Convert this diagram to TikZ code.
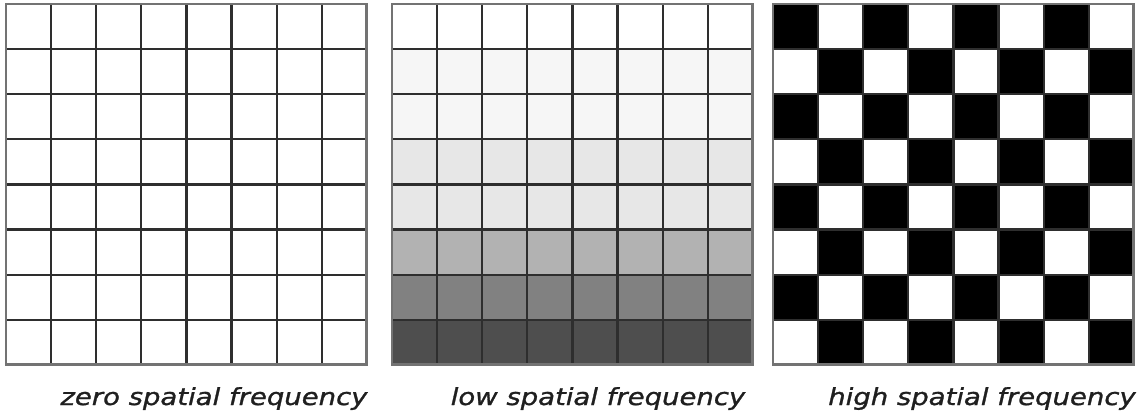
\documentclass[tikz,border=0pt]{standalone}
\usepackage{fontspec}
\setmainfont{DejaVu Sans}
\newfontfamily\capfont{DejaVu Sans}[FakeStretch=1.17,FakeBold=1.2]
\begin{document}
\begin{tikzpicture}[x=1pt,y=-1pt,
  gridline/.style={draw=black!82,line width=2.2pt},
  border/.style={draw=black!55,line width=2.8pt},
  caption/.style={font=\capfont\fontsize{23.5}{28}\selectfont\itshape,text=black!88,anchor=base,inner sep=0pt}]
\useasboundingbox (0,0) rectangle (1146,418);
\def\c{45.1}
% grid 2 shading
\foreach \r/\g in {1/0.965,2/0.965,3/0.905,4/0.905,5/0.70,6/0.505,7/0.305}{
  \definecolor{rowc}{gray}{\g}
  \fill[rowc] (392,{4+\r*\c}) rectangle (753,{4+(\r+1)*\c});
}
% grid 3 checker
\foreach \i in {0,...,7}{
  \foreach \j in {0,...,7}{
    \pgfmathtruncatemacro{\p}{mod(\i+\j,2)}
    \ifnum\p=0
      \fill[black] ({773+\j*\c},{4+\i*\c}) rectangle ({773+(\j+1)*\c},{4+(\i+1)*\c});
    \fi
  }
}
% grid lines
\foreach \x in {6,392,773}{
  \foreach \k in {1,...,7}{
    \draw[gridline] ({\x+\k*\c},4) -- ({\x+\k*\c},{4+8*\c});
    \draw[gridline] (\x,{4+\k*\c}) -- ({\x+8*\c},{4+\k*\c});
  }
  \draw[border] (\x,4) rectangle ({\x+8*\c},{4+8*\c});
}
\node[caption] (zero) at (214,405) {zero spatial frequency};
\node[caption] (low) at (598,405) {low spatial frequency};
\node[caption] (high) at (982,405) {high spatial frequency};
\end{tikzpicture}
\end{document}
